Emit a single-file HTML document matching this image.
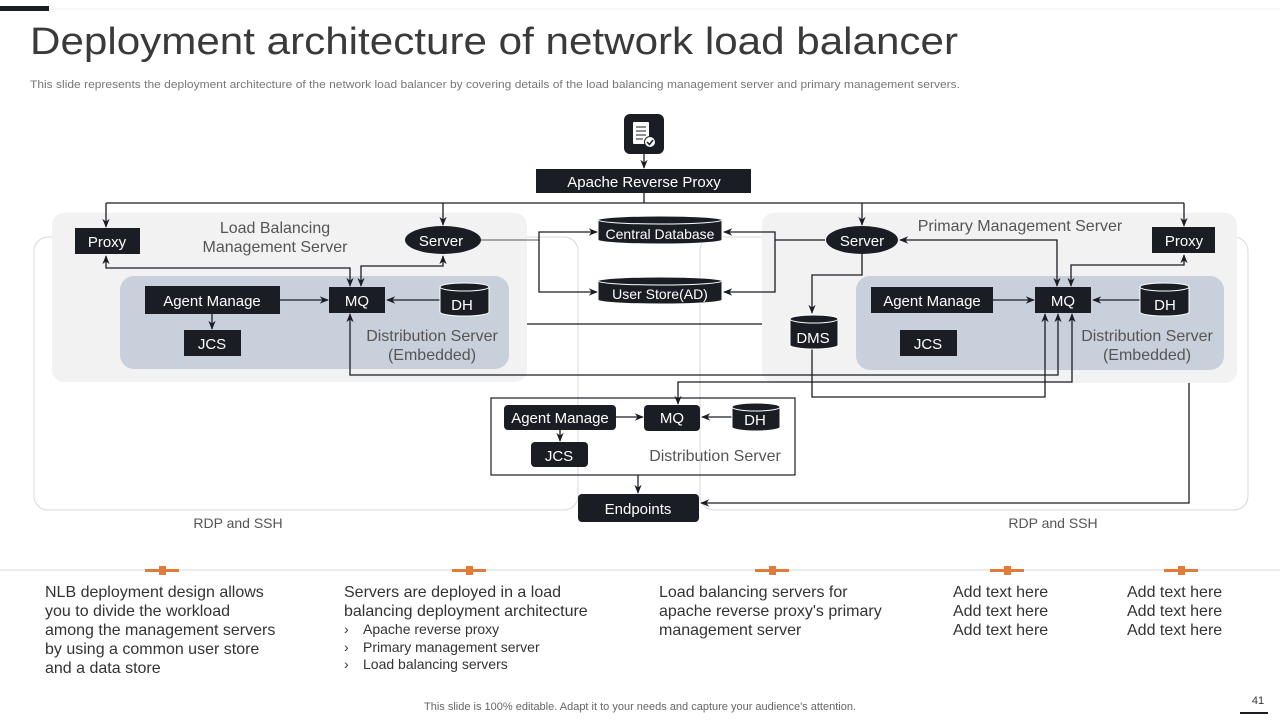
<!DOCTYPE html>
<html><head><meta charset="utf-8"><style>
body{margin:0;background:#fff;}
svg{display:block;font-family:"Liberation Sans",sans-serif;}
</style></head><body>
<svg width="1280" height="720" viewBox="0 0 1280 720" xmlns="http://www.w3.org/2000/svg">
<defs>
<marker id="a" viewBox="0 0 10 10" refX="9" refY="5" markerWidth="7" markerHeight="7" orient="auto-start-reverse"><path d="M0,1 L10,5 L0,9 L3,5 z" fill="#1a1d24"/></marker>
</defs>
<rect width="1280" height="720" fill="#fff"/>
<line x1="48" y1="9" x2="1280" y2="9" stroke="#eee" stroke-width="1"/>
<rect x="0" y="6" width="49" height="5" fill="#1a1d24"/>
<text x="30" y="54" font-size="38" fill="#3a3a3a" textLength="928" lengthAdjust="spacingAndGlyphs">Deployment architecture of network load balancer</text>
<text x="30" y="88" font-size="11" fill="#777" textLength="930" lengthAdjust="spacingAndGlyphs">This slide represents the deployment architecture of the network load balancer by covering details of the load balancing management server and primary management servers.</text>

<rect x="34" y="237" width="544" height="273" rx="14" fill="none" stroke="#d8d8d8"/>
<rect x="700" y="237" width="548" height="273" rx="14" fill="none" stroke="#d8d8d8"/>
<text x="238" y="528" font-size="14" fill="#555" text-anchor="middle">RDP and SSH</text>
<text x="1053" y="528" font-size="14" fill="#555" text-anchor="middle">RDP and SSH</text>

<rect x="52" y="213" width="475" height="169" rx="12" fill="#f2f2f2"/>
<rect x="762" y="213" width="475" height="170" rx="12" fill="#f2f2f2"/>
<rect x="120" y="276" width="389" height="93" rx="14" fill="#c8d0dc"/>
<rect x="856" y="276" width="368" height="94" rx="14" fill="#c8d0dc"/>

<g stroke="#1a1d24" stroke-width="1.3" fill="none">
<line x1="644" y1="154" x2="644" y2="168" marker-end="url(#a)"/>
<line x1="644" y1="193" x2="644" y2="203"/>
<line x1="106" y1="203" x2="1184" y2="203"/>
<line x1="106" y1="203" x2="106" y2="227" marker-end="url(#a)"/>
<line x1="443" y1="203" x2="443" y2="225" marker-end="url(#a)"/>
<line x1="862" y1="203" x2="862" y2="225" marker-end="url(#a)"/>
<line x1="1184" y1="203" x2="1184" y2="226" marker-end="url(#a)"/>
<polyline points="106,256 106,268 350,268 350,286" marker-start="url(#a)" marker-end="url(#a)"/>
<polyline points="443,256 443,266 361,266 361,286" marker-start="url(#a)" marker-end="url(#a)"/>
<line x1="280" y1="300" x2="328" y2="300" marker-end="url(#a)"/>
<line x1="440" y1="300" x2="387" y2="300" marker-end="url(#a)"/>
<line x1="212" y1="314" x2="212" y2="329" marker-end="url(#a)"/>
<polyline points="1058,314 1058,375 350,375 350,314" marker-start="url(#a)" marker-end="url(#a)"/>
<polyline points="481,240 539,240" stroke="#777"/>
<polyline points="597,232 539,232 539,292 597,292" marker-start="url(#a)" marker-end="url(#a)"/>
<line x1="527" y1="324" x2="762" y2="324"/>
<polyline points="724,232 775,232 775,292 724,292" marker-start="url(#a)" marker-end="url(#a)"/>
<line x1="775" y1="240" x2="825" y2="240"/>
<polyline points="862,254 862,275 812,275 812,313" marker-end="url(#a)"/>
<polyline points="900,240 1057,240 1057,286" marker-start="url(#a)" marker-end="url(#a)"/>
<polyline points="1184,255 1184,265 1071,265 1071,286" marker-start="url(#a)" marker-end="url(#a)"/>
<line x1="993" y1="300" x2="1034" y2="300" marker-end="url(#a)"/>
<line x1="1140" y1="300" x2="1093" y2="300" marker-end="url(#a)"/>
<polyline points="812,349 812,397 1045,397 1045,314" marker-end="url(#a)"/>
<polyline points="1072,314 1072,382 678,382 678,404" marker-start="url(#a)" marker-end="url(#a)"/>
<polyline points="1189,383 1189,503 701,503" marker-end="url(#a)"/>
<rect x="491" y="398" width="304" height="77" stroke-width="1.2"/>
<line x1="616" y1="417" x2="643" y2="417" marker-end="url(#a)"/>
<line x1="732" y1="417" x2="702" y2="417" marker-end="url(#a)"/>
<line x1="560" y1="430" x2="560" y2="441" marker-end="url(#a)"/>
<line x1="638" y1="475" x2="638" y2="493" marker-end="url(#a)"/>
</g>

<rect x="624" y="114" width="40" height="40" rx="6" fill="#1a1d24"/>
<rect x="633" y="122" width="16" height="22" rx="1" fill="#fff"/>
<g stroke="#1a1d24" stroke-width="1"><line x1="636" y1="127" x2="646" y2="127"/><line x1="636" y1="131" x2="646" y2="131"/><line x1="636" y1="135" x2="646" y2="135"/><line x1="636" y1="139" x2="643" y2="139"/></g>
<circle cx="650" cy="142" r="5.5" fill="#fff" stroke="#1a1d24"/>
<polyline points="647,142 649.5,144.5 653,140" stroke="#1a1d24" stroke-width="1.5" fill="none"/>

<g fill="#1a1d24">
<rect x="536" y="169" width="215" height="24"/>
<rect x="75" y="228" width="65" height="26"/>
<ellipse cx="443" cy="240" rx="38" ry="14"/>
<rect x="145" y="286" width="135" height="28"/>
<rect x="329" y="287" width="56" height="26"/>
<rect x="184" y="330" width="57" height="26"/>
<ellipse cx="862" cy="240" rx="36" ry="14"/>
<rect x="1152" y="227" width="63" height="26"/>
<rect x="871" y="287" width="122" height="26"/>
<rect x="1035" y="287" width="56" height="26"/>
<rect x="900" y="330" width="57" height="26"/>
<rect x="504" y="405" width="112" height="25" rx="4"/>
<rect x="644" y="405" width="56" height="26" rx="4"/>
<rect x="531" y="442" width="57" height="25" rx="4"/>
<rect x="578" y="494" width="121" height="28" rx="4"/>
</g>
<g fill="#1a1d24" stroke="#fff" stroke-width="1">
<path d="M440,287 v25 a24.5,4 0 0 0 49,0 v-25 a24.5,4 0 0 0 -49,0 z"/><path d="M440,287 a24.5,4 0 0 0 49,0" fill="none"/>
<path d="M1140,287 v25 a24.5,4 0 0 0 49,0 v-25 a24.5,4 0 0 0 -49,0 z"/><path d="M1140,287 a24.5,4 0 0 0 49,0" fill="none"/>
<path d="M790,319 v26 a24,4 0 0 0 48,0 v-26 a24,4 0 0 0 -48,0 z"/><path d="M790,319 a24,4 0 0 0 48,0" fill="none"/>
<path d="M732,407 v20 a24,4 0 0 0 48,0 v-20 a24,4 0 0 0 -48,0 z"/><path d="M732,407 a24,4 0 0 0 48,0" fill="none"/>
<path d="M598,220 v20 a62,4 0 0 0 124,0 v-20 a62,4 0 0 0 -124,0 z"/><path d="M598,220 a62,4 0 0 0 124,0" fill="none"/>
<path d="M598,281 v19 a62,4 0 0 0 124,0 v-19 a62,4 0 0 0 -124,0 z"/><path d="M598,281 a62,4 0 0 0 124,0" fill="none"/>
</g>

<g fill="#fff" font-size="15" text-anchor="middle">
<text x="644" y="187">Apache Reverse Proxy</text>
<text x="107" y="247">Proxy</text>
<text x="441" y="246">Server</text>
<text x="212" y="306">Agent Manage</text>
<text x="357" y="306">MQ</text>
<text x="462" y="310">DH</text>
<text x="212" y="349">JCS</text>
<text x="862" y="246">Server</text>
<text x="1184" y="246">Proxy</text>
<text x="932" y="306">Agent Manage</text>
<text x="1063" y="306">MQ</text>
<text x="1165" y="310">DH</text>
<text x="928" y="349">JCS</text>
<text x="813" y="343">DMS</text>
<text x="560" y="423">Agent Manage</text>
<text x="672" y="423">MQ</text>
<text x="755" y="425">DH</text>
<text x="559" y="461">JCS</text>
<text x="638" y="514">Endpoints</text>
<text x="660" y="239" font-size="14">Central Database</text>
<text x="660" y="299" font-size="14">User Store(AD)</text>
</g>

<g fill="#555" font-size="16" text-anchor="middle">
<text x="275" y="233">Load Balancing</text>
<text x="275" y="252">Management Server</text>
<text x="1020" y="231">Primary Management Server</text>
<text x="432" y="341">Distribution Server</text>
<text x="432" y="360">(Embedded)</text>
<text x="1147" y="341">Distribution Server</text>
<text x="1147" y="360">(Embedded)</text>
<text x="715" y="461">Distribution Server</text>
</g>

<line x1="0" y1="570" x2="1280" y2="570" stroke="#d8d8d8"/>
<g fill="#e07b39">
<rect x="145" y="569" width="34" height="3"/><rect x="159" y="566" width="7" height="9"/>
<rect x="452" y="569" width="34" height="3"/><rect x="466" y="566" width="7" height="9"/>
<rect x="755" y="569" width="34" height="3"/><rect x="769" y="566" width="7" height="9"/>
<rect x="990" y="569" width="34" height="3"/><rect x="1004" y="566" width="7" height="9"/>
<rect x="1164" y="569" width="34" height="3"/><rect x="1178" y="566" width="7" height="9"/>
</g>
<g fill="#333" font-size="16">
<text x="45" y="597">NLB deployment design allows</text>
<text x="45" y="616">you to divide the workload</text>
<text x="45" y="635">among the management servers</text>
<text x="45" y="654">by using a common user store</text>
<text x="45" y="673">and a data store</text>
<text x="344" y="597">Servers are deployed in a load</text>
<text x="344" y="616">balancing deployment architecture</text>
<text x="344" y="634" font-size="14">›</text><text x="363" y="634" font-size="14">Apache reverse proxy</text>
<text x="344" y="652" font-size="14">›</text><text x="363" y="652" font-size="14">Primary management server</text>
<text x="344" y="669" font-size="14">›</text><text x="363" y="669" font-size="14">Load balancing servers</text>
<text x="659" y="597">Load balancing servers for</text>
<text x="659" y="616">apache reverse proxy's primary</text>
<text x="659" y="635">management server</text>
<text x="953" y="597">Add text here</text>
<text x="953" y="616">Add text here</text>
<text x="953" y="635">Add text here</text>
<text x="1127" y="597">Add text here</text>
<text x="1127" y="616">Add text here</text>
<text x="1127" y="635">Add text here</text>
</g>
<text x="640" y="710" font-size="11" fill="#666" text-anchor="middle">This slide is 100% editable. Adapt it to your needs and capture your audience's attention.</text>
<text x="1258" y="704" font-size="11" fill="#333" text-anchor="middle">41</text>
<rect x="1240" y="712" width="28" height="2" fill="#1a1d24"/>
</svg>
</body></html>
